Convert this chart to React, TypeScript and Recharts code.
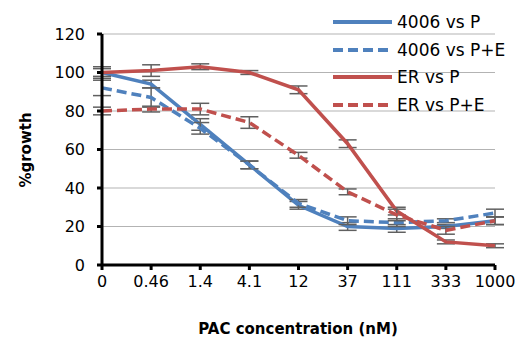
import { LineChart, Line, XAxis, YAxis, CartesianGrid, ErrorBar, Label } from 'recharts';

const concentrations = ['0', '0.46', '1.4', '4.1', '12', '37', '111', '333', '1000'];

const p4006 = [100, 94, 73, 52, 31, 20, 19, 20, 23];
const p4006Err = [3, 2, 3, 2, 2, 2, 2, 1, 2];
const pe4006 = [92, 87, 71, 52, 32, 23, 22, 23, 27];
const pe4006Err = [4, 5, 3, 2, 2, 2, 2, 1, 2];
const pER = [100, 101, 103, 100, 91, 63, 28, 12, 10];
const pERErr = [2, 3, 1.5, 1, 2, 2, 2, 1, 1];
const peER = [80, 81, 81, 74, 57, 38, 26, 18, 23];
const peERErr = [2, 1.5, 3, 3, 1.5, 1.5, 3, 2, 2];

const yTicks = [0, 20, 40, 60, 80, 100, 120];

const BLUE = '#4F81BD';
const RED = '#C0504D';
const FONT = '"DejaVu Sans", Verdana, sans-serif';

const data = concentrations.map((c, i) => ({
  conc: c,
  a: p4006[i], aErr: p4006Err[i],
  b: pe4006[i], bErr: pe4006Err[i],
  c: pER[i], cErr: pERErr[i],
  d: peER[i], dErr: peERErr[i],
}));

const series = [
  { key: 'a', name: '4006 vs P', color: BLUE, dash: undefined },
  { key: 'b', name: '4006 vs P+E', color: BLUE, dash: '10 5' },
  { key: 'c', name: 'ER vs P', color: RED, dash: undefined },
  { key: 'd', name: 'ER vs P+E', color: RED, dash: '10 5' },
];

// legend sits over the plot, top right, like the original
function LegendBox() {
  return (
    <div style={{ position: 'absolute', left: 332, top: 8, fontFamily: FONT, fontSize: 17, color: '#000' }}>
      {series.map(s => (
        <div key={s.key} style={{ display: 'flex', alignItems: 'center', height: 27.7 }}>
          <svg width={62} height={8}>
            <line x1={1} y1={4} x2={60} y2={4} stroke={s.color} strokeWidth={4} strokeDasharray={s.dash} />
          </svg>
          <span style={{ marginLeft: 3 }}>{s.name}</span>
        </div>
      ))}
    </div>
  );
}

export default function App() {
  return (
    <div style={{ position: 'absolute', left: 0, top: 0, width: 520, height: 341, background: '#fff' }}>
      <LineChart width={520} height={341} data={data} margin={{ top: 34, right: 25, bottom: 0, left: 0 }}>
        <CartesianGrid vertical={false} stroke="#b3b3b3" />
        <XAxis
          dataKey="conc"
          height={76}
          axisLine={{ stroke: '#000', strokeWidth: 3 }}
          tickLine={{ stroke: '#000', strokeWidth: 3 }}
          tickSize={5}
          tick={{ fill: '#000', fontSize: 16, fontFamily: FONT }}
          tickMargin={6}
          interval={0}
        >
          <Label
            content={() => (
              <text x={298} y={334} textAnchor="middle" fontFamily={FONT} fontWeight="bold" fontSize={15} fill="#000">
                PAC concentration (nM)
              </text>
            )}
          />
        </XAxis>
        <YAxis
          width={102}
          domain={[0, 120]}
          ticks={yTicks}
          interval={0}
          axisLine={{ stroke: '#000', strokeWidth: 3 }}
          tickLine={{ stroke: '#000', strokeWidth: 3 }}
          tickSize={5}
          tick={{ fill: '#000', fontSize: 16, fontFamily: FONT }}
          tickMargin={12}
        >
          <Label
            content={() => (
              <text x={31} y={150} transform="rotate(-90 31 150)" textAnchor="middle" fontFamily={FONT} fontWeight="bold" fontSize={15} fill="#000">
                %growth
              </text>
            )}
          />
        </YAxis>
        {series.map(s => (
          <Line
            key={s.key}
            dataKey={s.key}
            name={s.name}
            stroke={s.color}
            strokeWidth={3.5}
            strokeDasharray={s.dash}
            dot={false}
            isAnimationActive={false}
          >
            <ErrorBar dataKey={`${s.key}Err`} width={9} stroke="#606060" strokeWidth={1.5} direction="y" />
          </Line>
        ))}
      </LineChart>
      <LegendBox />
    </div>
  );
}
